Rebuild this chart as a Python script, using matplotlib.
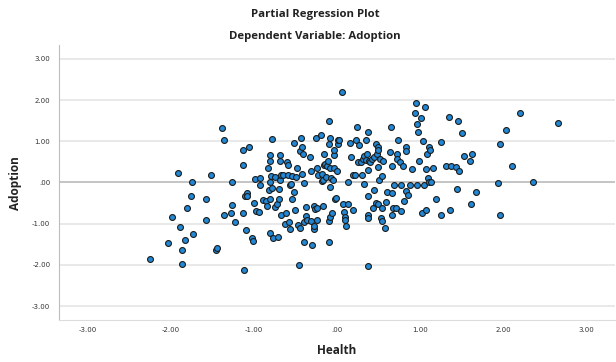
import matplotlib.pyplot as plt
from matplotlib.ticker import FuncFormatter

# partial residuals: Health (x) vs Adoption (y)
health = [
    -2.25, -2.03, -1.98, -1.91, -1.89, -1.87, -1.87, -1.83, -1.81, -1.76,
    -1.74, -1.73, -1.58, -1.57, -1.51, -1.46, -1.44, -1.38, -1.36, -1.36,
    -1.28, -1.26, -1.26, -1.23, -1.13, -1.13, -1.13, -1.12, -1.11, -1.09,
    -1.08, -1.08, -1.06, -1.02, -1.01, -1.00, -0.98, -0.97, -0.94, -0.92,
    -0.92, -0.89, -0.85, -0.84, -0.83, -0.82, -0.81, -0.81, -0.80, -0.80,
    -0.80, -0.79, -0.78, -0.78, -0.77, -0.75, -0.75, -0.72, -0.71, -0.70,
    -0.70, -0.69, -0.68, -0.68, -0.67, -0.67, -0.65, -0.63, -0.61, -0.60,
    -0.59, -0.59, -0.58, -0.57, -0.56, -0.55, -0.54, -0.54, -0.52, -0.51,
    -0.50, -0.49, -0.48, -0.47, -0.45, -0.44, -0.44, -0.43, -0.42, -0.42,
    -0.41, -0.40, -0.40, -0.39, -0.37, -0.37, -0.36, -0.32, -0.31, -0.31,
    -0.30, -0.28, -0.28, -0.28, -0.26, -0.25, -0.24, -0.24, -0.24, -0.23,
    -0.19, -0.18, -0.18, -0.17, -0.17, -0.16, -0.15, -0.14, -0.13, -0.12,
    -0.11, -0.10, -0.09, -0.09, -0.09, -0.08, -0.08, -0.08, -0.08, -0.07,
    -0.06, -0.05, -0.04, -0.04, -0.03, -0.02, -0.01, 0.00, 0.01, 0.02,
    0.03, 0.06, 0.08, 0.09, 0.10, 0.10, 0.11, 0.13, 0.14, 0.16,
    0.17, 0.19, 0.20, 0.22, 0.23, 0.24, 0.25, 0.27, 0.29, 0.30,
    0.32, 0.33, 0.33, 0.35, 0.35, 0.36, 0.37, 0.37, 0.37, 0.38,
    0.38, 0.38, 0.39, 0.40, 0.42, 0.44, 0.45, 0.45, 0.47, 0.47,
    0.48, 0.49, 0.49, 0.50, 0.50, 0.51, 0.52, 0.53, 0.54, 0.54,
    0.55, 0.56, 0.58, 0.59, 0.60, 0.64, 0.65, 0.66, 0.67, 0.67,
    0.68, 0.69, 0.71, 0.72, 0.73, 0.74, 0.76, 0.77, 0.77, 0.80,
    0.81, 0.83, 0.83, 0.83, 0.86, 0.88, 0.91, 0.94, 0.95, 0.96,
    0.97, 0.98, 0.99, 1.01, 1.03, 1.04, 1.05, 1.06, 1.07, 1.08,
    1.09, 1.10, 1.11, 1.11, 1.12, 1.13, 1.16, 1.19, 1.25, 1.26,
    1.32, 1.35, 1.36, 1.37, 1.43, 1.45, 1.46, 1.47, 1.51, 1.53,
    1.60, 1.62, 1.63, 1.68, 1.94, 1.97, 1.96, 2.04, 2.11, 2.21,
    2.36, 2.67,
]
adoption = [
    -1.86, -1.46, -0.83, 0.24, -1.07, -1.64, -1.98, -1.39, -0.63, -0.33,
    0.00, -1.25, -0.92, -0.40, 0.18, -1.65, -1.60, 1.32, 1.02, -0.80,
    -0.73, -0.54, 0.00, -0.95, -0.74, 0.78, 0.42, -2.12, -0.32, -1.16,
    -0.26, -0.34, 0.87, -1.35, -1.43, -0.49, 0.08, -0.69, -0.71, 0.12,
    -0.06, -0.43, -0.45, -0.57, 0.35, -0.18, 0.67, 0.53, -0.40, -1.23,
    0.00, 0.15, 1.05, -0.14, -1.35, 0.14, -0.60, -0.53, -1.32, -0.40,
    -0.16, 0.05, 0.53, 0.66, -0.78, 0.18, 0.19, -1.00, -0.74, 0.49,
    0.17, 0.42, -0.95, -0.06, -1.13, -0.04, 0.15, -0.40, -0.24, 0.96,
    -0.66, 0.14, 0.36, -1.04, -2.00, -1.10, 0.76, 1.07, 0.21, 0.87,
    0.69, -1.44, -0.02, -0.95, -0.81, -0.60, -0.92, 0.62, 0.27, -0.93,
    -1.51, -1.13, -1.05, -0.57, -0.65, 1.08, -0.91, 0.35, -0.61, 0.17,
    1.16, 0.03, 0.21, -0.57, 0.05, 0.43, 0.70, 0.45, 0.14, 0.40,
    0.52, 1.49, -1.45, -0.93, 0.93, 0.35, -0.83, 1.09, -0.10, 0.11,
    -0.73, 0.05, 0.66, 0.79, 0.35, -0.41, -0.37, 0.28, 0.94, 1.02,
    1.04, 2.19, -0.53, -0.72, -0.84, -0.91, -1.06, 0.02, -0.53, 0.95,
    0.63, 0.17, -0.67, 0.19, 1.04, 1.35, 0.49, 0.91, 0.49, 0.19,
    0.57, 0.65, -0.04, 1.04, 0.54, 0.70, -0.80, -0.87, -0.32, 0.31,
    1.22, -2.02, 0.52, 0.49, 0.57, -0.63, -0.18, 0.63, 0.94, -0.49,
    0.70, 0.37, -0.52, 0.87, 0.78, 0.06, 0.58, -0.87, -0.93, -0.63,
    0.16, 0.52, -1.11, -0.47, -0.23, 0.74, 1.34, -0.25, -0.79, 0.40,
    -0.62, -0.05, -0.63, 0.69, 0.58, 1.02, 0.49, -0.05, -0.69, 0.41,
    -0.46, 0.87, -0.20, 0.77, -0.30, -0.05, 0.32, 1.68, 1.94, 1.43,
    -0.05, 1.23, 0.53, 1.56, -0.73, 1.00, -0.06, 1.83, 0.33, -0.66,
    0.70, 0.11, 0.00, 0.87, 0.78, 0.02, 0.34, -0.40, 0.97, -0.79,
    0.41, 1.60, -0.66, 0.41, 0.38, -0.15, 1.49, 0.28, 1.20, 0.64,
    0.52, -0.53, 0.68, -0.24, -0.02, 0.93, -0.80, 1.28, 0.41, 1.69,
    0.01, 1.45,
]

y_ticks = [-3, -2, -1, 0, 1, 2, 3]
x_ticks = [-3, -2, -1, 0, 1, 2, 3]


def spss_fmt(v, pos=None):
    # SPSS style: ".00" for zero, no leading zero
    s = f"{v:.2f}"
    if s in ("0.00", "-0.00"):
        return ".00"
    return s


fig = plt.figure(figsize=(6.16, 3.62), dpi=100)
ax = fig.add_axes([0.0953, 0.116, 0.903, 0.760])

for t in y_ticks:
    col = "#b4b4b4" if t == 0 else "#e3e3e3"
    ax.axhline(t, color=col, lw=1.1, zorder=1)

ax.scatter(health, adoption, s=18, facecolor="#2088d6", edgecolor="#1c1c1c",
           linewidth=0.8, zorder=3)

ax.set_xlim(-3.35, 3.35)
ax.set_ylim(-3.34, 3.34)
ax.set_xticks(x_ticks)
ax.set_yticks(y_ticks)
ax.xaxis.set_major_formatter(FuncFormatter(spss_fmt))
ax.yaxis.set_major_formatter(FuncFormatter(spss_fmt))
ax.tick_params(length=0, labelsize=5, colors="#333333")
ax.tick_params(axis="x", pad=5)
ax.tick_params(axis="y", pad=6)

for side in ("top", "right"):
    ax.spines[side].set_visible(False)
ax.spines["left"].set_color("#bdbdbd")
ax.spines["bottom"].set_color("#dcdcdc")

fig.text(315 / 616, 1 - 15 / 362, "Partial Regression Plot", ha="center", va="center",
         fontsize=8.2, fontweight="bold", family="Open Sans", color="#222222")
fig.text(315 / 616, 1 - 36 / 362, "Dependent Variable: Adoption", ha="center", va="center",
         fontsize=8.2, fontweight="bold", family="Open Sans", color="#222222")
fig.text(337 / 616, 1 - 350 / 362, "Health", ha="center", va="center",
         fontsize=8.5, fontweight="bold", family="Open Sans", color="#222222")
fig.text(16 / 616, 1 - 183 / 362, "Adoption", ha="center", va="center", rotation=90,
         fontsize=8.5, fontweight="bold", family="Open Sans", color="#222222")

fig.savefig("out.png", dpi=100, facecolor="white")
